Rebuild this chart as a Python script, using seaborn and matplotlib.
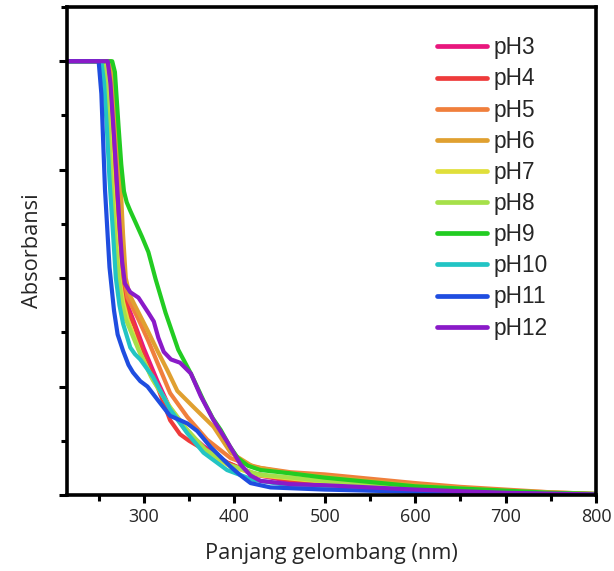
import pandas as pd
import numpy as np
import matplotlib
matplotlib.use('Agg')
import matplotlib.pyplot as plt
import seaborn as sns
from matplotlib.ticker import MultipleLocator

# wavelength (nm) / absorbance, one pair per pH
wl_ph3 = [215, 258, 261, 264, 267, 271, 275, 278, 282, 288, 300, 315, 330, 348, 366, 392, 421, 460, 500, 600, 700, 800]
ab_ph3 = [4.0, 4.0, 3.8, 3.4, 3.0, 2.5, 2.1, 1.9, 1.75, 1.62, 1.35, 1.05, 0.78, 0.58, 0.45, 0.30, 0.19, 0.13, 0.09, 0.045, 0.02, 0.0]

wl_ph4 = [215, 259, 262, 265, 268, 272, 276, 279, 283, 290, 299, 315, 329, 340, 350, 366, 392, 421, 460, 500, 600, 700, 800]
ab_ph4 = [4.0, 4.0, 3.7, 3.3, 2.91, 2.4, 2.0, 1.8, 1.68, 1.55, 1.31, 1.0, 0.69, 0.56, 0.50, 0.42, 0.30, 0.20, 0.14, 0.10, 0.05, 0.025, 0.005]

wl_ph5 = [215, 262, 265, 268, 272, 275, 278, 282, 288, 294, 305, 315, 329, 348, 370, 396, 415, 429, 462, 500, 550, 600, 650, 700, 750, 800]
ab_ph5 = [4.0, 4.0, 3.8, 3.4, 2.91, 2.4, 2.0, 1.82, 1.72, 1.62, 1.42, 1.22, 0.94, 0.72, 0.51, 0.34, 0.28, 0.25, 0.21, 0.19, 0.15, 0.11, 0.075, 0.05, 0.025, 0.01]

wl_ph6 = [215, 263, 266, 270, 274, 277, 280, 284, 290, 304, 315, 326, 337, 355, 377, 396, 421, 462, 500, 550, 600, 700, 800]
ab_ph6 = [4.0, 4.0, 3.8, 3.4, 2.91, 2.4, 2.0, 1.85, 1.75, 1.52, 1.33, 1.15, 0.96, 0.81, 0.63, 0.39, 0.26, 0.20, 0.17, 0.13, 0.09, 0.04, 0.01]

wl_ph7 = [215, 256, 259, 262, 265, 269, 273, 277, 282, 296, 310, 329, 348, 370, 396, 429, 500, 600, 700, 800]
ab_ph7 = [4.0, 4.0, 3.8, 3.4, 2.91, 2.4, 2.0, 1.78, 1.62, 1.31, 1.06, 0.81, 0.60, 0.39, 0.26, 0.18, 0.12, 0.06, 0.03, 0.005]

wl_ph8 = [215, 255, 258, 261, 264, 268, 272, 276, 280, 294, 308, 327, 346, 368, 394, 427, 500, 600, 700, 800]
ab_ph8 = [4.0, 4.0, 3.8, 3.4, 2.91, 2.4, 2.0, 1.76, 1.62, 1.34, 1.09, 0.83, 0.62, 0.42, 0.28, 0.19, 0.13, 0.07, 0.03, 0.005]

wl_ph9 = [215, 265, 268, 272, 275, 278, 281, 285, 291, 298, 305, 313, 324, 338, 352, 366, 376, 385, 395, 404, 415, 429, 462, 500, 550, 600, 650, 700, 750, 800]
ab_ph9 = [4.0, 4.0, 3.9, 3.4, 3.05, 2.8, 2.7, 2.62, 2.51, 2.38, 2.24, 1.99, 1.68, 1.34, 1.12, 0.87, 0.71, 0.60, 0.45, 0.34, 0.27, 0.23, 0.20, 0.16, 0.12, 0.08, 0.06, 0.04, 0.02, 0.01]

wl_ph10 = [215, 253, 256, 259, 262, 266, 269, 273, 277, 285, 290, 296, 310, 329, 348, 366, 392, 421, 460, 500, 600, 700, 800]
ab_ph10 = [4.0, 4.0, 3.8, 3.4, 2.91, 2.4, 2.0, 1.75, 1.58, 1.36, 1.3, 1.25, 1.09, 0.79, 0.57, 0.39, 0.23, 0.14, 0.09, 0.06, 0.03, 0.01, 0.0]

wl_ph11 = [215, 250, 253, 257, 262, 267, 271, 277, 283, 288, 296, 304, 315, 329, 340, 348, 359, 374, 385, 396, 407, 418, 440, 470, 500, 600, 700, 800]
ab_ph11 = [4.0, 4.0, 3.7, 2.82, 2.1, 1.7, 1.48, 1.33, 1.2, 1.13, 1.05, 1.0, 0.88, 0.73, 0.69, 0.66, 0.59, 0.44, 0.35, 0.26, 0.18, 0.11, 0.07, 0.06, 0.05, 0.03, 0.015, 0.0]

wl_ph12 = [215, 260, 263, 267, 270, 273, 276, 279, 285, 294, 305, 311, 316, 322, 330, 340, 352, 363, 377, 393, 407, 418, 429, 462, 500, 550, 600, 650, 700, 800]
ab_ph12 = [4.0, 4.0, 3.8, 3.3, 2.9, 2.5, 2.15, 1.95, 1.87, 1.82, 1.68, 1.6, 1.45, 1.32, 1.25, 1.22, 1.12, 0.91, 0.69, 0.48, 0.28, 0.18, 0.13, 0.10, 0.09, 0.07, 0.05, 0.035, 0.02, 0.005]

labels = ['pH3', 'pH4', 'pH5', 'pH6', 'pH7', 'pH8', 'pH9', 'pH10', 'pH11', 'pH12']
colors = ['#e8177d', '#ee3b3b', '#f07f3c', '#e0a030', '#e0df3a',
          '#a6e04a', '#22cc22', '#22c4c4', '#1f4de0', '#8a1ac8']

wls = [wl_ph3, wl_ph4, wl_ph5, wl_ph6, wl_ph7, wl_ph8, wl_ph9, wl_ph10, wl_ph11, wl_ph12]
abss = [ab_ph3, ab_ph4, ab_ph5, ab_ph6, ab_ph7, ab_ph8, ab_ph9, ab_ph10, ab_ph11, ab_ph12]

frames = []
for lab, w, a in zip(labels, wls, abss):
    frames.append(pd.DataFrame({'wl': w, 'abs': a, 'ph': lab}))
df = pd.concat(frames, ignore_index=True)

sns.set_theme(style='ticks')
plt.rcParams['font.family'] = ['Open Sans', 'DejaVu Sans']

fig = plt.figure(figsize=(6.14, 5.71), dpi=100)
ax = fig.add_axes([67/614, 1 - 495/571, (596-67)/614, (495-7)/571])

sns.lineplot(data=df, x='wl', y='abs', hue='ph', hue_order=labels,
             palette=dict(zip(labels, colors)), estimator=None,
             linewidth=3.0, ax=ax)
for ln in ax.get_lines():
    ln.set_solid_joinstyle('round')

ax.set_xlim(215, 800)
ax.set_ylim(0, 4.5)
ax.xaxis.set_major_locator(MultipleLocator(100))
ax.xaxis.set_minor_locator(MultipleLocator(50))
ax.yaxis.set_major_locator(MultipleLocator(1))
ax.yaxis.set_minor_locator(MultipleLocator(0.5))
ax.set_yticklabels([])
ax.tick_params(which='major', length=6, width=2.2, labelsize=13, color='black')
ax.tick_params(which='minor', length=4, width=2.2, color='black')
for sp in ax.spines.values():
    sp.set_linewidth(2.6)
    sp.set_color('black')

ax.set_xlabel('Panjang gelombang (nm)', fontsize=15.7, labelpad=12)
ax.set_ylabel('Absorbansi', fontsize=15.7, labelpad=8)

leg = ax.legend(loc='upper left', bbox_to_anchor=(0.70, 0.94), frameon=False,
                prop={'family': 'Liberation Sans', 'size': 16.3},
                handlelength=2.2, handletextpad=0.3, labelspacing=0.36,
                borderpad=0, borderaxespad=0)
for line in leg.get_lines():
    line.set_linewidth(3.4)

fig.savefig('out.png', dpi=100)
